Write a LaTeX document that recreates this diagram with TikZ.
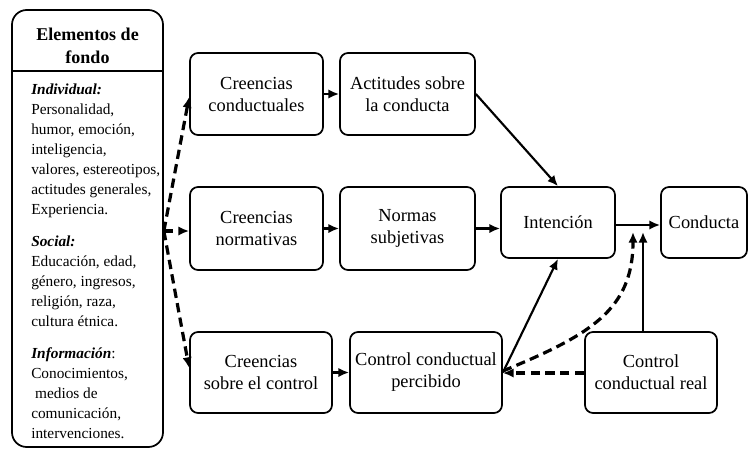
\documentclass[tikz,border=0pt]{standalone}
\usepackage{fontspec}
\setmainfont{Liberation Serif}
\usetikzlibrary{arrows.meta}
\begin{document}
\begin{tikzpicture}[x=0.75pt,y=-0.75pt,
  sz/.style 2 args={minimum width=#1*0.75pt, minimum height=#2*0.75pt},
  box/.style={draw, line width=1.3pt, rounded corners=6pt, align=center, inner sep=0pt,
    font=\fontsize{13.8}{16.5}\selectfont},
  arr/.style={line width=1.6pt, -{Latex[length=8pt,width=7pt]}},
  darr/.style={line width=2.4pt, dash pattern=on 7pt off 4pt, -{Latex[length=8pt,width=7pt]}},
]
\useasboundingbox[fill=white] (0,0) rectangle (753,450);

% background elements box
\node[draw, line width=1.3pt, rounded corners=11pt, sz={151}{437}, inner sep=0pt] (fondo) at (87.5,228.5) {};
\coordinate (sep) at (0,71);
\draw[line width=1.3pt] (fondo.west |- sep) -- (fondo.east |- sep);
\node[anchor=base, inner sep=0pt, font=\bfseries\fontsize{13.5}{17.25}\selectfont] (hdr) at (87.5,40)
  {\begin{tabular}[t]{@{}c@{}}Elementos de\\fondo\end{tabular}};
\node[anchor=base west, inner sep=0pt, font=\fontsize{11.5}{15}\selectfont] (bgtext) at (31,94)
  {\begin{tabular}[t]{@{}l@{}}
   \textbf{\textit{Individual:}}\\
   Personalidad,\\
   humor, emoción,\\
   inteligencia,\\
   valores, estereotipos,\\
   actitudes generales,\\
   Experiencia.\\[9pt]
   \textbf{\textit{Social:}}\\
   Educación, edad,\\
   género, ingresos,\\
   religión, raza,\\
   cultura étnica.\\[9pt]
   \textbf{\textit{Información}}:\\
   Conocimientos,\\
   \hspace*{0.25em}medios de\\
   comunicación,\\
   intervenciones.
   \end{tabular}};

% model boxes
\node[box, sz={133}{82}] (cc) at (256.5,94) {Creencias\\conductuales};
\node[box, sz={135}{82}] (ac) at (407.5,94) {Actitudes sobre\\la conducta};
\node[box, sz={133}{83}] (cn) at (256.5,228.5) {Creencias\\normativas};
\node[box, sz={135}{83}] (ns) at (407.5,228.5) {Normas\\subjetivas};
\node[box, sz={142}{81}] (cs) at (261,372.5) {Creencias\\sobre el control};
\node[box, sz={152}{81}] (cp) at (426,372.5) {Control conductual\\percibido};
\node[box, sz={114}{71}] (in) at (558,222.5) {Intención};
\node[box, sz={86}{71}] (co) at (704,222.5) {Conducta};
\node[box, sz={132}{81}] (cr) at (651,372.5) {Control\\conductual real};

% dashed connectors from background elements
\coordinate (src) at (fondo.east |- 0,231);
\draw[darr] (src) -- (cc.west |- 0,97);
\draw[darr] (src) -- (cn.west |- src);
\draw[darr] (src) -- (cs.west |- 0,368);

% solid connectors
\draw[arr] (cc) -- (ac);
\draw[arr] (cn) -- (ns);
\draw[arr] (ns.east) -- (in.west |- ns.east);
\draw[arr] (ac.east) -- (in.north);
\draw[arr] (cs) -- (cp);
\draw[arr] (cp.east) -- (in.south);
\draw[arr] (in.east |- 0,225) -- (co.west |- 0,225);
\coordinate (jn) at (643,232);
\draw[arr] (cr.north -| jn) -- (jn);

% dashed connectors from actual control
\draw[darr] (cr.west |- 0,373) -- (cp.east |- 0,373);
\coordinate (jd) at (633,232);
\draw[darr] (cp.east |- 0,371) .. controls (590,335) and (633,310) .. (jd);
\end{tikzpicture}
\end{document}
